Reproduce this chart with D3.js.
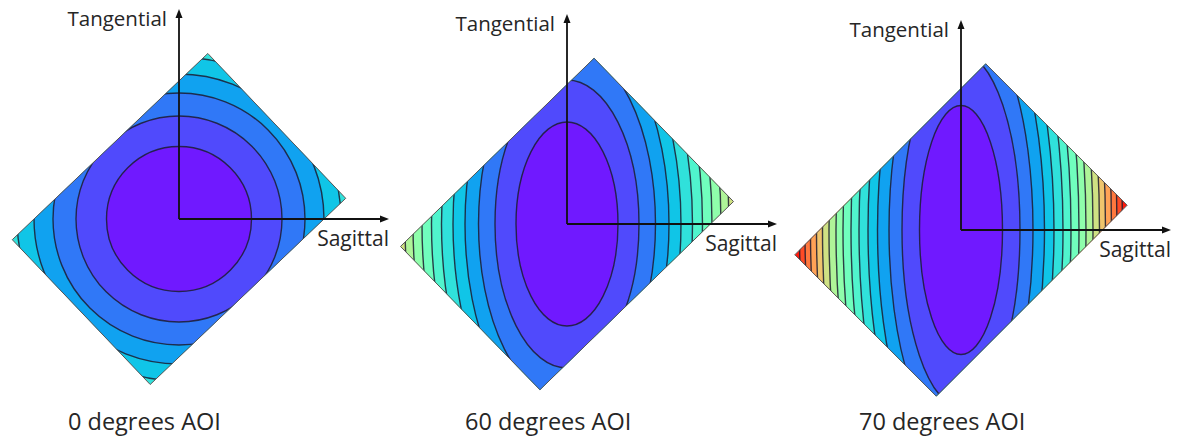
<!DOCTYPE html>
<meta charset="utf-8">
<head>
  <title>Astigmatism vs angle of incidence</title>
</head>

<style>
body {
  margin: 0;
  background: #fff;
  font-family: "Open Sans", sans-serif;
}
text {
  fill: #262626;
}
</style>

<body>
  <svg id="chart" width="1179" height="437"></svg>

  <script src="https://cdnjs.cloudflare.com/ajax/libs/d3/7.8.5/d3.min.js"></script>

  <script>
  // one panel per angle of incidence
  var captions = ['0 degrees AOI', '60 degrees AOI', '70 degrees AOI'];

  // sagittal half-width of each contour line (aperture half-width = 1)
  var sagittal0 = [0.725, 1.03, 1.26, 1.45, 1.62];
  var sagittal60 = [0.51, 0.72, 0.885, 1.02, 1.14, 1.255, 1.355, 1.45, 1.54, 1.62];
  var sagittal70 = [0.415, 0.59, 0.72, 0.835, 0.93, 1.02, 1.10, 1.18, 1.25, 1.32,
                    1.385, 1.445, 1.505, 1.56, 1.615];

  // tangential / sagittal size of the contours
  var aspectRatios = [1.0, 2.0, 3.0];

  // rotated rectangular aperture: half sizes and tilt (degrees)
  var apertureHalf = [1.0, 1.35];
  var apertureTilt = [43.6, 44.2, 45];

  var bandCount = 16;

  // layout
  var centers = [[179, 219], [567, 224], [961, 230]];
  var captionX = [68, 465, 859];
  var unit = 100;

  var panels = captions.map(function(c, i) {
    return {
      caption: c,
      radii: [sagittal0, sagittal60, sagittal70][i],
      aspect: aspectRatios[i],
      tilt: apertureTilt[i],
      center: centers[i],
      captionX: captionX[i]
    };
  });

  // matplotlib style "rainbow" colormap
  function rainbow(t) {
    var r = Math.min(1, Math.abs(2 * t - 0.5));
    var g = Math.sin(Math.PI * t);
    var b = Math.cos(Math.PI * t / 2);
    return d3.rgb(r * 255, g * 255, Math.max(0, b) * 255).toString();
  }

  var color = d3.scaleSequential(rainbow).domain([0, bandCount]);

  var svg = d3.select('#chart');

  function drawPanel(p, i) {
    var g = d3.select(this);
    var cx = p.center[0], cy = p.center[1];

    var x = d3.scaleLinear().domain([-1, 1]).range([cx - unit, cx + unit]);
    var y = d3.scaleLinear().domain([-1, 1]).range([cy + unit, cy - unit]);

    // aperture corners
    var a = p.tilt * Math.PI / 180;
    var u = [Math.cos(a), Math.sin(a)];               // long side, up-right
    var v = [Math.cos(a - Math.PI / 2), Math.sin(a - Math.PI / 2)]; // short side, down-right
    var hl = apertureHalf[1], hw = apertureHalf[0];
    var corners = [[1, -1], [1, 1], [-1, 1], [-1, -1]].map(function(s) {
      return [s[0] * hl * u[0] + s[1] * hw * v[0], s[0] * hl * u[1] + s[1] * hw * v[1]];
    });
    var line = d3.line()
      .x(function(d) { return x(d[0]); })
      .y(function(d) { return y(d[1]); })
      .curve(d3.curveLinearClosed);

    var clipId = 'aperture' + i;
    g.append('clipPath')
      .attr('id', clipId)
      .append('path')
      .attr('d', line(corners));

    var field = g.append('g').attr('clip-path', 'url(#' + clipId + ')');

    // outermost band fills the aperture
    field.append('path')
      .attr('d', line(corners))
      .attr('fill', color(p.radii.length + 0.5));

    var levels = p.radii.map(function(r, k) { return { r: r, k: k }; }).reverse();

    field.selectAll('ellipse')
      .data(levels)
      .enter()
      .append('ellipse')
      .attr('cx', x(0))
      .attr('cy', y(0))
      .attr('rx', function(d) { return x(d.r) - x(0); })
      .attr('ry', function(d) { return y(0) - y(d.r * p.aspect); })
      .attr('fill', function(d) { return color(d.k + 0.5); })
      .attr('stroke', '#1c1c30')
      .attr('stroke-opacity', 0.85)
      .attr('stroke-width', 1.4);

    g.append('path')
      .attr('d', line(corners))
      .attr('fill', 'none')
      .attr('stroke', '#555')
      .attr('stroke-width', 1);

    // axes
    var len = 2.1;
    g.append('line')
      .attr('x1', x(0)).attr('y1', y(0))
      .attr('x2', x(0)).attr('y2', y(len) + 4)
      .attr('stroke', '#111').attr('stroke-width', 1.8);
    g.append('line')
      .attr('x1', x(0)).attr('y1', y(0))
      .attr('x2', x(len) - 4).attr('y2', y(0))
      .attr('stroke', '#111').attr('stroke-width', 1.8);

    g.append('path')
      .attr('d', 'M' + x(0) + ',' + y(len) + 'l-3.5,9h7z')
      .attr('fill', '#111');
    g.append('path')
      .attr('d', 'M' + x(len) + ',' + y(0) + 'l-9,-3.5v7z')
      .attr('fill', '#111');

    g.append('text')
      .attr('x', x(0) - 12)
      .attr('y', y(len) + 17)
      .attr('text-anchor', 'end')
      .style('font-size', '20.5px')
      .text('Tangential');

    g.append('text')
      .attr('x', x(len))
      .attr('y', y(0) + 27)
      .attr('text-anchor', 'end')
      .style('font-size', '21px')
      .text('Sagittal');

    g.append('text')
      .attr('x', p.captionX)
      .attr('y', 430)
      .style('font-size', '23.5px')
      .text(p.caption);
  }

  svg.selectAll('g.panel')
    .data(panels)
    .enter()
    .append('g')
    .classed('panel', true)
    .each(drawPanel);
  </script>
</body>
</html>
